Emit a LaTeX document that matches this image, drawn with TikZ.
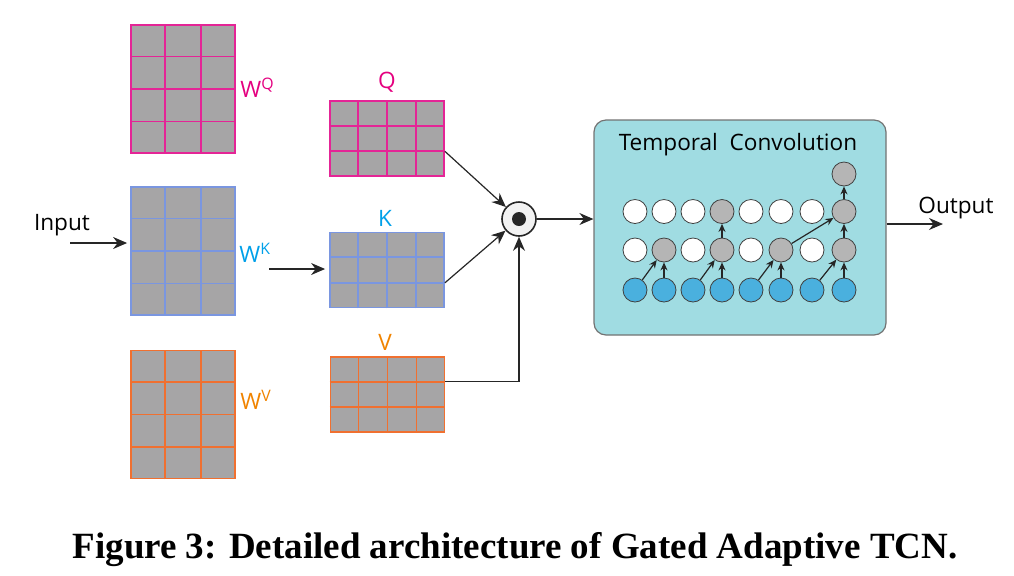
\documentclass[tikz,border=0pt]{standalone}
\usepackage{fontspec}
\setsansfont{Open Sans}
\newfontfamily\capfont{Liberation Serif}
\usetikzlibrary{arrows.meta,positioning,calc}

\definecolor{cellgray}{HTML}{A6A5A6}
\definecolor{qline}{HTML}{E42596}
\definecolor{kline}{HTML}{7A96E0}
\definecolor{vline}{HTML}{F07030}
\definecolor{qlab}{HTML}{E4007F}
\definecolor{klab}{HTML}{00A0E9}
\definecolor{vlab}{HTML}{F08300}
\definecolor{tcnfill}{HTML}{A0DCE2}
\definecolor{unitblue}{HTML}{4AB0DE}
\definecolor{unitgray}{HTML}{B5B5B5}

\tikzstyle{arch}=[x=0.5pt, y=-0.5pt, >={Stealth[length=7pt,width=6pt]},
                font=\sffamily\fontsize{11.3}{13}\selectfont]
\tikzstyle{lab}=[inner sep=0]
\tikzstyle{wmat}=[draw, fill=cellgray, inner sep=0, line width=0.9pt,
                minimum width=52pt, minimum height=64pt]
\tikzstyle{pmat}=[wmat, minimum width=57pt, minimum height=37.5pt]
\tikzstyle{unit}=[circle, draw=black!75, line width=0.4pt, minimum size=12pt,
                inner sep=0, fill=white]
\tikzstyle{conn}=[->, line width=0.6pt, black!85]
\tikzstyle{uconn}=[-{Stealth[length=4pt,width=3.5pt]}, line width=0.6pt, black!85]

% node, colour, column fractions, row fractions
\newcommand{\cellgrid}[4]{%
  \foreach \f in {#3}
    \draw[draw=#2, line width=0.9pt] ($(#1.south west)!\f!(#1.south east)$)
      -- ($(#1.north west)!\f!(#1.north east)$);
  \foreach \f in {#4}
    \draw[draw=#2, line width=0.9pt] ($(#1.south west)!\f!(#1.north west)$)
      -- ($(#1.south east)!\f!(#1.north east)$);
}

\begin{document}
\begin{tikzpicture}[arch]
\path[use as bounding box] (0,0) rectangle (1014,575);
% weights
\node[wmat, draw=qline] (wq) at (183,89) {};
\node[wmat, draw=kline] (wk) at (183,251) {};
\node[wmat, draw=vline] (wv) at (183,414.5) {};
\cellgrid{wq}{qline}{0.333,0.667}{0.25,0.5,0.75}
\cellgrid{wk}{kline}{0.333,0.667}{0.25,0.5,0.75}
\cellgrid{wv}{vline}{0.333,0.667}{0.25,0.5,0.75}
\node[lab, anchor=base west, text=qlab] (wqlab) at (240,97) {W\textsuperscript{Q}};
\node[lab, anchor=base west, text=klab] (wklab) at (239,262) {W\textsuperscript{K}};
\node[lab, anchor=base west, text=vlab] (wvlab) at (240,409) {W\textsuperscript{V}};
\node[lab, anchor=base] (inlab) at (62,230) {Input};
% Q, K, V
\node[pmat, draw=qline] (q) at (387,138.5) {};
\node[pmat, draw=kline] (k) at (387,270) {};
\node[pmat, draw=vline] (v) at (387.5,394.5) {};
\cellgrid{q}{qline}{0.25,0.5,0.75}{0.333,0.667}
\cellgrid{k}{kline}{0.25,0.5,0.75}{0.333,0.667}
\cellgrid{v}{vline}{0.25,0.5,0.75}{0.333,0.667}
\node[lab, anchor=base, text=qlab] (qlab) at (387,88) {Q};
\node[lab, anchor=base, text=klab] (klab) at (385,226) {K};
\node[lab, anchor=base, text=vlab] (vlab) at (385,350) {V};
% product
\node[circle, draw=black!85, line width=0.8pt, fill=gray!10, minimum size=17pt,
      inner sep=0] (dot) at (519,219) {};
\node[circle, fill=black!85, minimum size=7pt, inner sep=0] (dotc) at (dot) {};
% tcn block
\node[draw=black!55, fill=tcnfill, rounded corners=6pt, line width=0.6pt,
      minimum width=146pt, minimum height=107.5pt] (tcn) at (740,227.5) {};
\node[lab, anchor=base] (tcnlab) at (738,150) {Temporal\ \ Convolution};
\foreach \c/\x/\two/\three in {0/635/white/white, 1/664/unitgray/white,
    2/693/white/white, 3/722/unitgray/unitgray, 4/751/white/white,
    5/781/unitgray/white, 6/812/white/white, 7/844/unitgray/unitgray} {
  \node[unit, fill=unitblue] (u1-\c) at (\x,290) {};
  \node[unit, fill=\two] (u2-\c) at (\x,250) {};
  \node[unit, fill=\three] (u3-\c) at (\x,211.5) {};
}
\node[unit, fill=unitgray] (u4-7) at (844,174) {};
\foreach \c in {1,3,5,7} {
  \pgfmathtruncatemacro\p{\c-1}
  \draw[uconn] (u1-\p) -- (u2-\c);
  \draw[uconn] (u1-\c) -- (u2-\c);
}
\draw[uconn] (u2-3) -- (u3-3);
\draw[uconn] (u2-5) -- (u3-7);
\draw[uconn] (u2-7) -- (u3-7);
\draw[uconn] (u3-7) -- (u4-7);
% connectors
\coordinate (in) at (70,243);
\draw[conn, shorten >=1.5pt] (in) -- (in -| wk.west);
\coordinate (kin) at (269,269);
\draw[conn, shorten >=2pt] (kin) -- (kin -| k.west);
\draw[conn] ($(q.south east)!0.333!(q.north east)$) -- (dot);
\draw[conn] ($(k.south east)!0.333!(k.north east)$) -- (dot);
\draw[conn] ($(v.south east)!0.667!(v.north east)$) -| (dot);
\draw[conn] (dot) -- (dot -| tcn.west);
\coordinate (out) at (943,224);
\draw[conn] (out -| tcn.east) -- (out);
\node[lab, anchor=base west] (outlab) at (918,213) {Output};
% caption
\node[lab, anchor=base, font=\capfont\bfseries\fontsize{18.5}{21}\selectfont] (cap)
  at (515,558) {Figure 3: Detailed architecture of Gated Adaptive TCN.};
\end{tikzpicture}
\end{document}
